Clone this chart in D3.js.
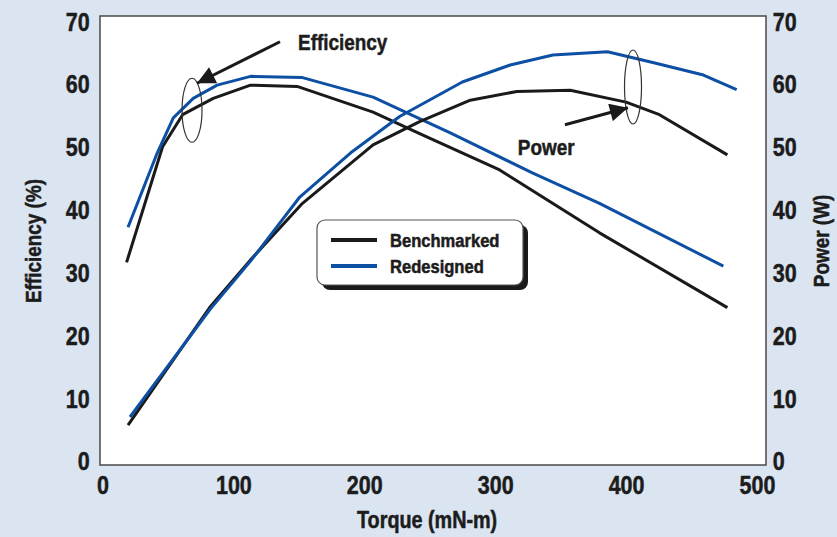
<!DOCTYPE html>
<html>
<head>
<meta charset="utf-8">
<script src="https://cdn.jsdelivr.net/npm/d3@7"></script>
<style>
  body { margin: 0; background: #dbe5f1; }
  svg { display: block; }
  text { font-family: "Liberation Sans", Arial, sans-serif; font-weight: bold; fill: #1c1c1c; stroke: #1c1c1c; stroke-width: 0.5px; }
</style>
</head>
<body>
<div id="chart"></div>
<script>
// torque (mN-m) vs efficiency (%) and power (W)
var effBenchTorque = [18.4, 45.9, 61.2, 84.6, 113.1, 148.7, 206.7, 242.3, 303.4, 379.7, 477.4];
var effBench       = [31.6, 50.0, 55.1, 57.7, 59.8, 59.6, 55.5, 52.1, 46.3, 36.3, 24.4];
var effRedTorque   = [19.5, 41.8, 54.1, 69.3, 87.6, 113.1, 152.8, 206.7, 265.7, 328.8, 379.7, 474.3];
var effRed         = [37.2, 49.0, 54.6, 57.7, 59.8, 61.2, 61.0, 57.9, 52.2, 45.8, 41.0, 31.0];
var powBenchTorque = [19.5, 82.5, 113.1, 152.8, 206.7, 242.3, 281, 316.6, 357.3, 400, 425.5, 477.4];
var powBench       = [5.7, 24.6, 32.0, 41.0, 50.3, 54.0, 57.4, 58.8, 59.0, 57.1, 55.1, 48.7];
var powRedTorque   = [21, 82.5, 113.1, 150.7, 189.4, 227, 274.9, 311.5, 344.1, 385.8, 420.4, 459.1, 484.5];
var powRed         = [7.0, 24.2, 31.8, 42.0, 49.0, 54.8, 60.3, 63.0, 64.6, 65.1, 63.4, 61.4, 59.1];
var xTicks = [0, 100, 200, 300, 400, 500];
var yTicks = [0, 10, 20, 30, 40, 50, 60, 70];
var legendNames = ["Benchmarked", "Redesigned"];
var colors = { Benchmarked: "#1a1a1a", Redesigned: "#0d4fa3" };

var W = 837, H = 537;
var margin = {top: 16, right: 71, bottom: 72, left: 100},
    width = W - margin.left - margin.right,
    height = H - margin.top - margin.bottom;
var SQ = 0.86; // horizontal squeeze, the original face is a condensed one

var svg = d3.select("#chart").append("svg")
    .attr("width", W)
    .attr("height", H);

var g = svg.append("g")
    .attr("transform", "translate(" + margin.left + "," + margin.top + ")");

// the frame runs a little past 0..500 and 0..70
var x = d3.scaleLinear().domain([-1.9, 506.9]).range([0, width]);
var y = d3.scaleLinear().domain([-0.64, 70.8]).range([height, 0]);
var y2 = y.copy();

// condensed text placed at px,py
function label(parent, px, py, str, size, rot, anchor) {
  return parent.append("text")
    .attr("transform", "translate(" + px + "," + py + ")" + (rot ? " rotate(" + rot + ")" : "") + " scale(" + SQ + ",1)")
    .attr("text-anchor", anchor || "start")
    .attr("font-size", size)
    .text(str);
}

// plot area
g.append("rect")
    .attr("width", width)
    .attr("height", height)
    .attr("fill", "#fff")
    .attr("stroke", "#4a4a4a")
    .attr("stroke-width", 1.5);

// axes
var xa = g.append("g")
    .attr("transform", "translate(0," + height + ")")
    .call(d3.axisBottom(x).tickValues(xTicks).tickSize(0).tickPadding(11));
var ya = g.append("g")
    .call(d3.axisLeft(y).tickValues(yTicks).tickSize(0).tickPadding(12));
var ya2 = g.append("g")
    .attr("transform", "translate(" + width + ",0)")
    .call(d3.axisRight(y2).tickValues(yTicks).tickSize(0).tickPadding(8));
[xa, ya, ya2].forEach(function(a) {
  a.select(".domain").remove();
  a.selectAll("text")
    .attr("font-size", 25)
    .attr("fill", null)
    .attr("font-family", null)
    .attr("transform", "scale(" + SQ + ",1)");
});
ya.selectAll("text").attr("dy", "0.36em");
ya2.selectAll("text").attr("dy", "0.36em");
xa.selectAll("text").attr("dy", "0.72em");

// axis titles
label(svg, 41, margin.top + 225, "Efficiency (%)", 22, -90, "middle");
label(svg, 829, margin.top + 225, "Power (W)", 22, -90, "middle");
label(svg, margin.left + x(248), 528, "Torque (mN-m)", 23, 0, "middle");

// lines
var line = d3.line()
    .x(function(d) { return x(d[0]); })
    .y(function(d) { return y(d[1]); });

function zip(a, b) { return a.map(function(v, i) { return [v, b[i]]; }); }

var series = [
  { name: "Benchmarked", pts: zip(effBenchTorque, effBench) },
  { name: "Redesigned",  pts: zip(effRedTorque, effRed) },
  { name: "Benchmarked", pts: zip(powBenchTorque, powBench) },
  { name: "Redesigned",  pts: zip(powRedTorque, powRed) }
];

g.selectAll(".curve")
    .data(series)
  .enter().append("path")
    .attr("class", "curve")
    .attr("d", function(d) { return line(d.pts); })
    .attr("fill", "none")
    .attr("stroke", function(d) { return colors[d.name]; })
    .attr("stroke-width", 3)
    .attr("stroke-linejoin", "round")
    .attr("stroke-linecap", "butt");

// annotations
var defs = svg.append("defs");
defs.append("marker")
    .attr("id", "arr")
    .attr("viewBox", "0 0 10 10")
    .attr("refX", 10).attr("refY", 5)
    .attr("markerWidth", 7).attr("markerHeight", 6)
    .attr("markerUnits", "strokeWidth")
    .attr("orient", "auto")
  .append("path")
    .attr("d", "M0,0 L10,5 L0,10 Z")
    .attr("fill", "#1a1a1a");

g.append("ellipse")
    .attr("cx", x(68.4)).attr("cy", y(55.8))
    .attr("rx", 10).attr("ry", 32)
    .attr("fill", "none").attr("stroke", "#333").attr("stroke-width", 1.2);
g.append("line")
    .attr("x1", x(135.6)).attr("y1", y(66.7))
    .attr("x2", x(72.2)).attr("y2", y(60.1))
    .attr("stroke", "#1a1a1a").attr("stroke-width", 3)
    .attr("marker-end", "url(#arr)");
label(g, x(149.4), y(65.4), "Efficiency", 22);

g.append("ellipse")
    .attr("cx", x(405.3)).attr("cy", y(59.5))
    .attr("rx", 8.5).attr("ry", 37)
    .attr("fill", "none").attr("stroke", "#333").attr("stroke-width", 1.2);
g.append("line")
    .attr("x1", x(353.3)).attr("y1", y(53.5)).attr("x2", x(401.4)).attr("y2", y(56.2))
    .attr("stroke", "#1a1a1a").attr("stroke-width", 3)
    .attr("marker-end", "url(#arr)");
label(g, x(317.3), y(48.7), "Power", 22);

// legend
var lg = svg.append("g").attr("transform", "translate(317,220)");
lg.append("rect")
    .attr("x", 5).attr("y", 5).attr("width", 206).attr("height", 65)
    .attr("rx", 8).attr("fill", "#1a1a1a");
lg.append("rect")
    .attr("width", 206).attr("height", 65)
    .attr("rx", 8).attr("fill", "#fff")
    .attr("stroke", "#555").attr("stroke-width", 1.2);
var items = lg.selectAll(".item")
    .data(legendNames)
  .enter().append("g")
    .attr("transform", function(d, i) { return "translate(14," + (20 + i * 26) + ")"; });
items.append("line")
    .attr("x1", 0).attr("x2", 46)
    .attr("stroke", function(d) { return colors[d]; })
    .attr("stroke-width", 4);
items.append("text")
    .attr("transform", "translate(59,7) scale(0.92,1)")
    .attr("font-size", 18)
    .text(function(d) { return d; });
</script>
</body>
</html>
